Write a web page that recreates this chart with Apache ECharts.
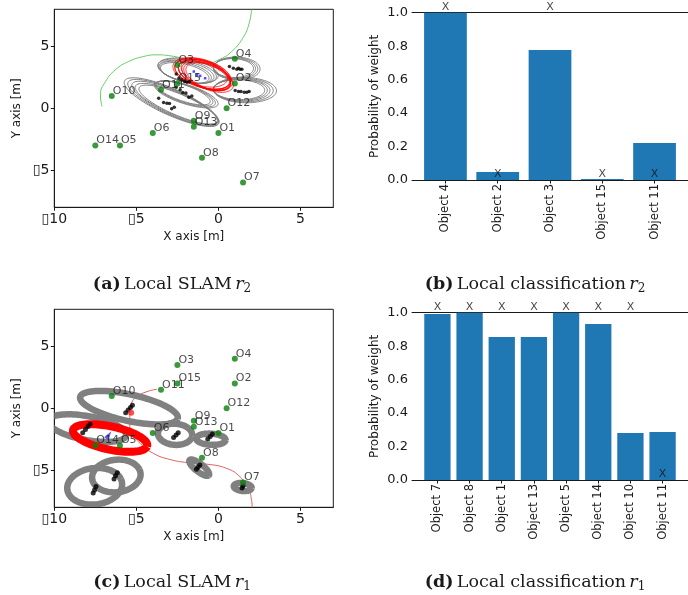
<!DOCTYPE html>
<html>
<head>
<meta charset="utf-8">
<script src="https://cdn.jsdelivr.net/npm/echarts@6/dist/echarts.min.js"></script>
<style>
  html, body { margin: 0; padding: 0; background: #ffffff; }
  #chart { width: 688px; height: 595px; }
</style>
</head>
<body>
<div id="chart"></div>
<script>
// ---- Object landmarks (ground truth positions, shared by both maps) ----
const objectNames = ['O1','O2','O3','O4','O5','O6','O7','O8','O9','O10','O11','O12','O13','O14','O15'];
const objectX = [0, 1, -2.5, 1, -6, -4, 1.5, -1, -1.5, -6.5, -3.5, 0.5, -1.5, -7.5, -2.5];
const objectY = [-2, 2, 3.5, 4, -3, -2, -6, -4, -1, 1, 1.5, 0, -1.5, -3, 2];

// ---- Robot r2: local SLAM ----
const r2LandmarkX = [0.67, 0.91, 1.12, 1.22, 1.32, 1.43,
                     1.02, 1.22, 1.37, 1.57, 1.73, 1.87,
                     -2.57, -2.41, -2.23, -2.06, -1.92, -1.76,
                     -2.57, -2.33, -2.17, -1.98, -1.80, -1.62,
                     -3.64, -3.34, -3.14, -2.98, -2.85, -2.69];
const r2LandmarkY = [3.37, 3.24, 3.16, 3.24, 3.16, 3.16,
                     1.43, 1.35, 1.35, 1.30, 1.30, 1.35,
                     2.78, 2.43, 2.30, 2.16, 2.11, 2.14,
                     1.70, 1.49, 1.27, 1.24, 0.89, 1.00,
                     0.81, 0.46, 0.41, 0.38, -0.03, 0.08];
// covariance ellipses: [centre x, centre y, semi-axis a, semi-axis b, angle deg]
const r2GrayEllipses = [
  [1.12, 3.22, 1.42, 0.92, -3], [1.05, 3.23, 1.35, 0.86, -3], [0.98, 3.24, 1.28, 0.81, -3], [0.92, 3.25, 1.22, 0.76, -3],
  [1.62, 1.47, 1.92, 1.02, -2], [1.52, 1.48, 1.82, 0.96, -2], [1.42, 1.49, 1.72, 0.90, -2], [1.34, 1.50, 1.64, 0.85, -2], [1.26, 1.50, 1.56, 0.80, -2],
  [-1.90, 3.00, 1.85, 0.85, -18], [-1.95, 2.95, 1.75, 0.80, -18], [-2.00, 2.90, 1.65, 0.75, -20], [-1.85, 3.05, 1.90, 0.90, -16], [-2.05, 2.85, 1.55, 0.70, -20],
  [-2.02, 1.16, 2.00, 0.70, -25], [-2.08, 1.20, 1.90, 0.66, -25], [-2.14, 1.24, 1.80, 0.62, -26], [-1.96, 1.12, 2.10, 0.74, -24],
  [-2.75, 0.45, 3.22, 0.95, -32], [-2.65, 0.40, 3.05, 0.90, -32], [-2.55, 0.35, 2.90, 0.85, -31], [-2.45, 0.30, 2.75, 0.80, -31], [-2.85, 0.50, 3.35, 1.00, -32]
];
const r2RedEllipses = [
  [-0.85, 2.70, 1.75, 1.00, -30], [-0.75, 2.62, 1.66, 0.94, -33], [-0.95, 2.80, 1.84, 1.04, -27], [-0.70, 2.58, 1.60, 0.88, -34],
  [-1.00, 2.82, 1.90, 1.08, -26], [-0.62, 2.55, 1.55, 0.86, -35], [-0.88, 2.74, 1.72, 0.98, -31], [-0.80, 2.66, 1.80, 0.92, -29],
  [-1.05, 2.86, 1.70, 1.00, -24], [-0.68, 2.62, 1.84, 0.96, -36]
];
const r2PathX = [-7.09, -7.19, -6.88, -6.28, -5.47, -4.55, -3.74, -2.94, -2.23, -1.52, -0.71, 0.10, 0.81, 1.42, 1.82, 2.02];
const r2PathY = [0.14, 1.08, 2.16, 3.11, 3.78, 4.19, 4.32, 4.24, 4.05, 3.78, 3.65, 3.97, 4.59, 5.54, 6.62, 7.97];
const r2PoseX = [-1.50, -1.30, -1.11, -0.81];
const r2PoseY = [2.97, 2.70, 2.62, 2.43];

// ---- Robot r1: local SLAM ----
const r1LandmarkX = [-5.65, -5.50, -5.36, -5.24, -8.27, -8.10, -7.95, -7.82, -2.73, -2.58, -2.45,
                     -0.65, -0.50, -0.37, -1.34, -1.23, -1.13, 1.44, 1.50, -6.36, -6.27, -6.16, -7.63, -7.55, -7.46];
const r1LandmarkY = [-0.35, -0.13, 0.07, 0.24, -1.98, -1.72, -1.48, -1.27, -2.35, -2.15, -1.97,
                     -2.48, -2.27, -2.07, -4.92, -4.74, -4.58, -6.45, -6.28, -5.72, -5.45, -5.20, -6.85, -6.60, -6.32];
const r1GrayRings = [
  [-5.45, 0.05, 3.10, 1.05, -17],
  [-8.00, -1.60, 2.45, 0.95, -15],
  [-2.64, -2.10, 1.05, 0.85, -10],
  [-0.46, -2.50, 0.90, 0.45, -5],
  [-1.17, -4.80, 0.85, 0.28, -48],
  [1.48, -6.36, 0.55, 0.32, -10],
  [-7.54, -6.30, 1.70, 1.45, 20],
  [-6.22, -5.47, 1.50, 1.30, 20]
];
const r1RedRings = [[-6.60, -2.40, 2.35, 0.92, -17]];
const r1PathX = [-3.74, -4.35, -4.96, -5.30, -5.40, -5.40, -5.26, -4.76, -3.95, -2.94, -1.92, -0.71, 0.51, 1.32, 1.82, 2.02, 2.06];
const r1PathY = [1.54, 1.35, 0.95, 0.41, -0.35, -1.22, -2.03, -2.84, -3.65, -4.14, -4.38, -4.51, -4.86, -5.54, -6.49, -7.43, -8.03];
const r1CurrentX = [-5.32];
const r1CurrentY = [-0.35];
const r1PoseX = [-6.68];
const r1PoseY = [-2.16];

// ---- Local classification ----
const classCatsR2 = ['Object 4', 'Object 2', 'Object 3', 'Object 15', 'Object 11'];
const classProbR2 = [1.0, 0.048, 0.777, 0.006, 0.221];
const classTruthR2 = [1, 0, 1, 0, 0];
const classCatsR1 = ['Object 7', 'Object 8', 'Object 1', 'Object 13', 'Object 5', 'Object 14', 'Object 10', 'Object 11'];
const classProbR1 = [0.992, 1.0, 0.855, 0.855, 1.0, 0.932, 0.281, 0.287];
const classTruthR1 = [1, 1, 1, 1, 1, 1, 1, 0];

const mapXTicks = [-10, -5, 0, 5];
const mapYTicks = [-5, 0, 5];
const probTicks = [0, 0.2, 0.4, 0.6, 0.8, 1.0];

// ---------------------------------------------------------------
const SANS = 'DejaVu Sans';
const SERIF = 'DejaVu Serif';
const INK = '#1a1a1a';
const zip = (xs, ys) => xs.map((x, i) => [x, ys[i]]);
// missing minus glyph shows as an empty box in the tick labels
const mapTickFmt = v => (v < 0 ? '\u25AF' + (-v) : String(v));

const mapGrids = [
  { left: 54.3, top: 9.3, width: 279, height: 198 },
  { left: 54.3, top: 309.3, width: 279, height: 198 }
];
const barGrids = [
  { left: 412, top: 12.7, width: 282, height: 167.3 },
  { left: 412, top: 312.7, width: 282, height: 167.3 }
];

function mapXAxis(gi) {
  return {
    type: 'value', gridIndex: gi, min: -10, max: 7,
    axisLine: { show: true, onZero: false, lineStyle: { color: INK, width: 1 } },
    axisTick: { show: true, length: 3.5, customValues: mapXTicks, lineStyle: { color: INK } },
    axisLabel: { customValues: mapXTicks, formatter: mapTickFmt, fontSize: 14, fontFamily: SANS, color: INK, margin: 5 },
    splitLine: { show: false },
    name: 'X axis [m]', nameLocation: 'middle', nameGap: 24,
    nameTextStyle: { fontSize: 12, fontFamily: SANS, color: INK }
  };
}
function mapYAxis(gi) {
  return {
    type: 'value', gridIndex: gi, min: -8, max: 8,
    axisLine: { show: true, onZero: false, lineStyle: { color: INK, width: 1 } },
    axisTick: { show: true, length: 3.5, customValues: mapYTicks, lineStyle: { color: INK } },
    axisLabel: { customValues: mapYTicks, formatter: mapTickFmt, fontSize: 14, fontFamily: SANS, color: INK, margin: 5 },
    splitLine: { show: false },
    name: 'Y axis [m]', nameLocation: 'middle', nameGap: 31, nameRotate: 90,
    nameTextStyle: { fontSize: 12, fontFamily: SANS, color: INK }
  };
}
function barPad(n) { return 0.4 + 0.05 * (n - 1 + 0.8); }
function barXAxis(gi, cats) {
  const n = cats.length;
  const idx = cats.map((_, i) => i);
  const pad = barPad(n);
  return {
    type: 'value', gridIndex: gi, min: -pad, max: n - 1 + pad,
    axisLine: { show: true, onZero: false, lineStyle: { color: INK } },
    axisTick: { show: true, length: 3.5, customValues: idx, lineStyle: { color: INK } },
    axisLabel: { customValues: idx, rotate: 90, formatter: v => cats[Math.round(v)], fontSize: 11.5, fontFamily: SANS, color: INK, margin: 4 },
    splitLine: { show: false }
  };
}
// upper frame line of a bar panel
function barTopAxis(gi, n) {
  const pad = barPad(n);
  return {
    type: 'value', gridIndex: gi, position: 'top', min: -pad, max: n - 1 + pad,
    axisLine: { show: true, onZero: false, lineStyle: { color: INK } },
    axisTick: { show: false }, axisLabel: { show: false }, splitLine: { show: false }
  };
}
function barYAxis(gi) {
  return {
    type: 'value', gridIndex: gi, min: 0, max: 1,
    axisLine: { show: false },
    axisTick: { show: true, length: 3.5, customValues: probTicks, lineStyle: { color: INK } },
    axisLabel: { customValues: probTicks, formatter: v => v.toFixed(1), fontSize: 13, fontFamily: SANS, color: INK, margin: 4 },
    splitLine: { show: false },
    name: 'Probability of weight', nameLocation: 'middle', nameGap: 31, nameRotate: 90,
    nameTextStyle: { fontSize: 12, fontFamily: SANS, color: INK }
  };
}

// outline of a covariance ellipse, projected through the axes
function ellipseSeries(gi, rows, color, width, z) {
  return {
    type: 'custom', xAxisIndex: gi, yAxisIndex: gi, z: z, clip: true, silent: true,
    data: rows,
    encode: { x: 0, y: 1 },
    renderItem: function (params, api) {
      const cx = api.value(0), cy = api.value(1), a = api.value(2), b = api.value(3);
      const ang = api.value(4) * Math.PI / 180;
      const ca = Math.cos(ang), sa = Math.sin(ang);
      const pts = [];
      for (let k = 0; k <= 96; k++) {
        const t = 2 * Math.PI * k / 96;
        const ex = a * Math.cos(t), ey = b * Math.sin(t);
        pts.push(api.coord([cx + ex * ca - ey * sa, cy + ex * sa + ey * ca]));
      }
      const cs = params.coordSys;
      return {
        type: 'polyline',
        shape: { points: pts },
        style: { stroke: color, lineWidth: width, fill: null },
        clipPath: { type: 'rect', shape: { x: cs.x, y: cs.y, width: cs.width, height: cs.height } }
      };
    }
  };
}

function objectSeries(gi) {
  return {
    type: 'scatter', xAxisIndex: gi, yAxisIndex: gi, z: 10,
    data: objectNames.map((nm, i) => ({ name: nm, value: [objectX[i], objectY[i]] })),
    symbolSize: 6,
    itemStyle: { color: '#08800a' },
    label: {
      show: true, position: 'right', distance: 0, offset: [-2, -5],
      formatter: p => p.name, fontSize: 11, fontFamily: SANS, color: INK
    }
  };
}

// ground-truth marker above each bar: "X" at 1 (true) or 0 (false)
function truthSeries(gi, truth) {
  return {
    type: 'scatter', xAxisIndex: gi, yAxisIndex: gi, z: 10, clip: false, silent: true,
    data: truth.map((t, i) => [i, t]),
    symbolSize: 2, itemStyle: { color: 'rgba(0,0,0,0)' },
    label: { show: true, position: 'top', distance: -1, formatter: 'X', fontSize: 11, fontFamily: SANS,
             color: '#111111', textBorderWidth: 0 }
  };
}

function barSeries(gi, probs, grid) {
  const n = probs.length;
  const span = n - 1 + 2 * barPad(n);
  return {
    type: 'bar', xAxisIndex: gi, yAxisIndex: gi,
    data: probs.map((p, i) => [i, p]),
    barWidth: grid.width / span * 0.8,
    itemStyle: { color: '#1f77b4' }
  };
}

function caption(x, y, letter, body, sub) {
  return {
    type: 'text', x: x, y: y,
    style: {
      text: '{b|(' + letter + ')} {n|' + body + '} {i|r}{s|' + sub + '}',
      align: 'center', verticalAlign: 'middle',
      rich: {
        b: { fontFamily: SERIF, fontSize: 17.5, fontWeight: 'bold', fill: INK },
        n: { fontFamily: SERIF, fontSize: 17.5, fill: INK },
        i: { fontFamily: SERIF, fontSize: 17.5, fontStyle: 'italic', fill: INK },
        s: { fontFamily: SERIF, fontSize: 12, fill: INK, padding: [10, 0, 0, 0] }
      }
    }
  };
}

const chart = echarts.init(document.getElementById('chart'), null, { renderer: 'canvas' });
const option = {
  animation: false,
  backgroundColor: '#ffffff',
  grid: [
    Object.assign({ show: true, borderColor: INK, borderWidth: 1, backgroundColor: 'transparent' }, mapGrids[0]),
    Object.assign({ show: false }, barGrids[0]),
    Object.assign({ show: true, borderColor: INK, borderWidth: 1, backgroundColor: 'transparent' }, mapGrids[1]),
    Object.assign({ show: false }, barGrids[1])
  ],
  xAxis: [mapXAxis(0), barXAxis(1, classCatsR2), mapXAxis(2), barXAxis(3, classCatsR1),
          barTopAxis(1, classCatsR2.length), barTopAxis(3, classCatsR1.length)],
  yAxis: [mapYAxis(0), barYAxis(1), mapYAxis(2), barYAxis(3)],
  series: [
    // (a) robot r2
    { type: 'line', xAxisIndex: 0, yAxisIndex: 0, z: 1, data: zip(r2PathX, r2PathY), smooth: true, showSymbol: false,
      lineStyle: { color: '#66cc66', width: 1 }, silent: true },
    ellipseSeries(0, r2GrayEllipses, '#808080', 1, 2),
    ellipseSeries(0, r2RedEllipses, '#ff0000', 0.8, 3),
    { type: 'scatter', xAxisIndex: 0, yAxisIndex: 0, z: 4, data: zip(r2LandmarkX, r2LandmarkY), symbolSize: 3.5,
      itemStyle: { color: '#000000' }, silent: true },
    { type: 'scatter', xAxisIndex: 0, yAxisIndex: 0, z: 5, data: zip(r2PoseX, r2PoseY), symbol: 'rect', symbolSize: 2.5,
      itemStyle: { color: '#2020ff' }, silent: true },
    objectSeries(0),
    // (b) classification r2
    barSeries(1, classProbR2, barGrids[0]),
    truthSeries(1, classTruthR2),
    // (c) robot r1
    { type: 'line', xAxisIndex: 2, yAxisIndex: 2, z: 1, data: zip(r1PathX, r1PathY), smooth: true, showSymbol: false,
      lineStyle: { color: '#e06060', width: 1 }, silent: true },
    ellipseSeries(2, r1GrayRings, '#808080', 6.5, 2),
    ellipseSeries(2, r1RedRings, '#ff0000', 8, 3),
    { type: 'scatter', xAxisIndex: 2, yAxisIndex: 2, z: 4, data: zip(r1LandmarkX, r1LandmarkY), symbolSize: 5,
      itemStyle: { color: '#000000' }, silent: true },
    { type: 'scatter', xAxisIndex: 2, yAxisIndex: 2, z: 5, data: zip(r1CurrentX, r1CurrentY), symbolSize: 6,
      itemStyle: { color: '#ff2020' }, silent: true },
    { type: 'scatter', xAxisIndex: 2, yAxisIndex: 2, z: 5, data: zip(r1PoseX, r1PoseY), symbol: 'triangle', symbolSize: [5, 9],
      symbolRotate: -35, itemStyle: { color: '#3030ff' }, silent: true },
    objectSeries(2),
    // (d) classification r1
    barSeries(3, classProbR1, barGrids[1]),
    truthSeries(3, classTruthR1)
  ],
  graphic: [
    caption(172, 284, 'a', 'Local SLAM', '2'),
    caption(535, 284, 'b', 'Local classification', '2'),
    caption(172, 582, 'c', 'Local SLAM', '1'),
    caption(535, 582, 'd', 'Local classification', '1')
  ]
};
chart.setOption(option);
</script>
</body>
</html>
